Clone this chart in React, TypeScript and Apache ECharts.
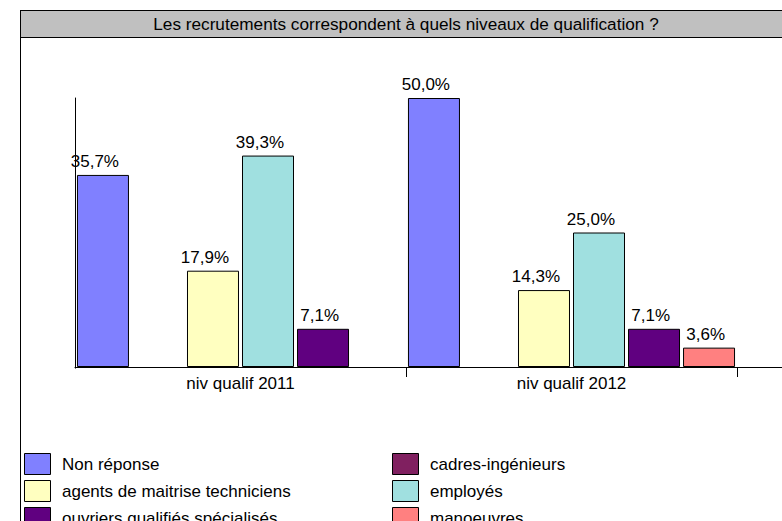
import React, { useEffect, useRef } from "react";
import * as echarts from "echarts";

const categories = ["niv qualif 2011", "niv qualif 2012"];
const seriesNames = [
  "Non réponse",
  "cadres-ingénieurs",
  "agents de maitrise techniciens",
  "employés",
  "ouvriers qualifiés spécialisés",
  "manoeuvres",
];
const nonReponse = [35.7, 50.0];
const cadres = [0, 0];
const agents = [17.9, 14.3];
const employes = [39.3, 25.0];
const ouvriers = [7.1, 7.1];
const manoeuvres = [0, 3.6];
const colors = ["#8080FF", "#802060", "#FFFFC0", "#A0E0E0", "#600080", "#FF8080"];
const legendCol1 = ["Non réponse", "agents de maitrise techniciens", "ouvriers qualifiés spécialisés"];
const legendCol2 = ["cadres-ingénieurs", "employés", "manoeuvres"];
const titleText = "Les recrutements correspondent à quels niveaux de qualification ?";

const FONT = "'Liberation Sans', Arial, sans-serif";

export default function App() {
  const ref = useRef<HTMLDivElement>(null);
  useEffect(() => {
    if (!ref.current) return;
    const chart = echarts.init(ref.current, undefined, { renderer: "svg" });
    const values = [nonReponse, cadres, agents, employes, ouvriers, manoeuvres];
    const fmt = (p: any) => (p.value ? p.value.toFixed(1).replace(".", ",") + "%" : "");

    const legendItems: any[] = [];
    const addCol = (names: string[], x: number) => {
      names.forEach((name, r) => {
        const idx = seriesNames.indexOf(name);
        const y = 453 + r * 27;
        legendItems.push({
          type: "rect",
          shape: { x: x + 0.5, y: y + 0.5, width: 26, height: 21 },
          style: { fill: colors[idx], stroke: "#000", lineWidth: 1 },
        });
        legendItems.push({
          type: "text",
          x: x + 38,
          y: y + 11,
          style: {
            text: name,
            fill: "#000",
            fontSize: 17,
            fontFamily: FONT,
            textAlign: "left",
            textVerticalAlign: "middle",
          },
        });
      });
    };
    addCol(legendCol1, 24);
    addCol(legendCol2, 392);

    chart.setOption({
      animation: false,
      textStyle: { fontFamily: FONT },
      title: {
        text: titleText,
        left: 406,
        top: 15,
        textAlign: "center",
        padding: 0,
        textStyle: { fontSize: 17.2, fontWeight: "normal", color: "#000", fontFamily: FONT },
      },
      graphic: [
        {
          type: "rect",
          z: -1,
          shape: { x: 20.5, y: 10.5, width: 800, height: 27 },
          style: { fill: "#C0C0C0", stroke: "#000", lineWidth: 1 },
        },
        {
          type: "line",
          shape: { x1: 20.5, y1: 10, x2: 20.5, y2: 521 },
          style: { stroke: "#000", lineWidth: 1 },
        },
        {
          type: "line",
          shape: { x1: 737, y1: 367.5, x2: 782, y2: 367.5 },
          style: { stroke: "#000", lineWidth: 1 },
        },
        {
          type: "rect",
          z: 100,
          shape: { x: 73, y: 368.5, width: 5, height: 12 },
          style: { fill: "#fff", lineWidth: 0 },
        },
        ...legendItems,
      ],
      grid: { left: 75, right: 45, top: 98, bottom: 154, containLabel: false },
      xAxis: {
        type: "category",
        data: categories,
        axisLine: { lineStyle: { color: "#000", width: 1 } },
        axisTick: { show: true, length: 10, lineStyle: { color: "#000" } },
        axisLabel: { color: "#000", fontSize: 17, margin: 8, fontFamily: FONT },
      },
      yAxis: {
        type: "value",
        min: 0,
        max: 50,
        axisLine: { show: true, lineStyle: { color: "#000", width: 1 } },
        axisTick: { show: false },
        axisLabel: { show: false },
        splitLine: { show: false },
      },
      series: seriesNames.map((name, i) => ({
        name,
        type: "bar",
        data: values[i].map((v) =>
          v === 0 ? { value: 0, itemStyle: { borderWidth: 0, opacity: 0 } } : v
        ),
        barWidth: 52,
        barGap: "5.8%",
        itemStyle: { color: colors[i], borderColor: "#000", borderWidth: 1 },
        label: {
          show: true,
          position: "top",
          distance: 5,
          align: "right",
          offset: [16, 0],
          formatter: fmt,
          color: "#000",
          fontSize: 17,
          fontFamily: FONT,
        },
      })),
    });
    return () => chart.dispose();
  }, []);
  return (
    <div
      ref={ref}
      style={{ position: "fixed", left: 0, top: 0, width: 782, height: 521, background: "#fff" }}
    />
  );
}
